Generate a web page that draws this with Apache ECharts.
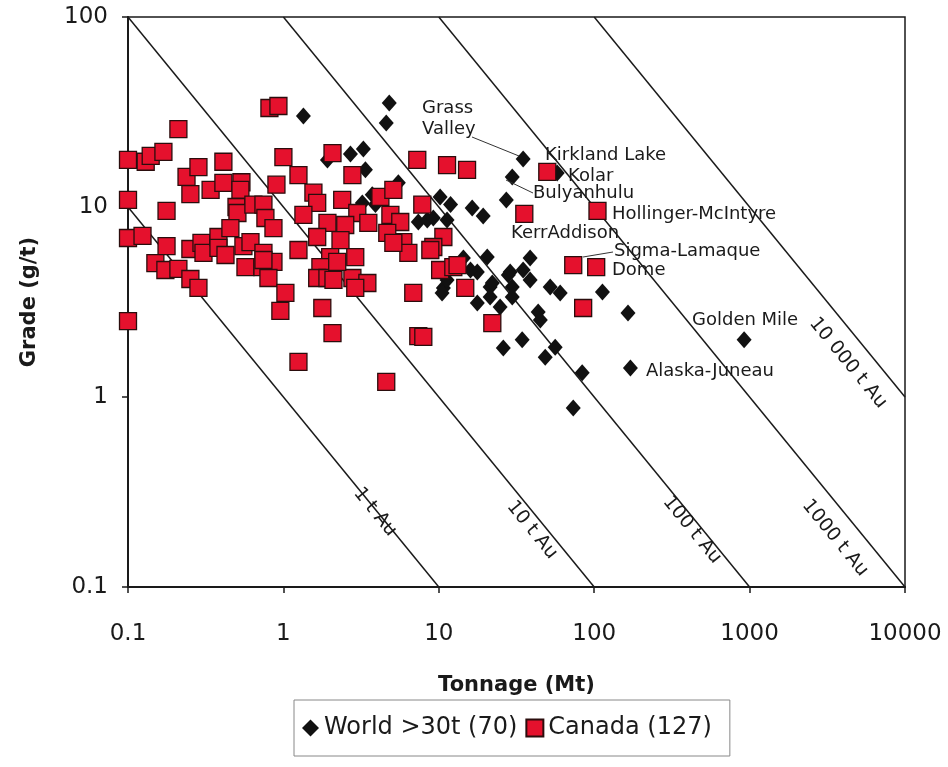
<!DOCTYPE html>
<html>
<head>
<meta charset="utf-8">
<script src="https://cdn.jsdelivr.net/npm/echarts@6/dist/echarts.min.js"></script>
<style>
  html, body { margin: 0; padding: 0; background: #fff; }
  #chart { width: 948px; height: 767px; }
</style>
</head>
<body>
<div id="chart"></div>
<script>
// Canada deposits: tonnage (Mt) and grade (g/t)
const canadaMt = [
  0.10, 0.13, 0.14, 0.169, 0.211, 0.10, 0.177, 0.238, 0.284, 0.252, 0.34, 0.411, 0.411, 0.537, 0.529, 0.499, 0.506, 0.641, 0.744, 0.766, 0.863, 0.902, 0.813, 0.929, 1.0,
  0.10, 0.124, 0.177, 0.15, 0.174, 0.211, 0.252, 0.284, 0.10, 0.252, 0.297, 0.306, 0.382, 0.382, 0.424, 0.456, 0.553, 0.614, 0.57, 0.744, 0.733, 0.863, 0.801, 1.03, 0.956,
  2.07, 2.78, 1.25, 1.56, 1.65, 2.39, 2.99, 4.21, 5.10, 7.27, 11.3, 7.83, 1.345, 1.92, 2.5, 3.52, 4.88, 5.65, 10.7, 1.65,
  2.33, 1.25, 2.0, 2.9, 1.73, 1.65, 1.92, 2.78, 3.47, 2.9, 1.78, 2.07, 1.25, 4.59, 6.85, 7.38, 5.91, 6.37, 4.66, 9.22,
  10.2, 12.4, 15.2, 49.9, 35.5, 105, 73.3, 103, 84.9, 22.1, 8.82, 13.2, 14.8, 7.95,
  2.22, 2.1, 5.1, 0.744
];
const canadaGrade = [
  17.7, 17.3, 18.6, 19.5, 25.7, 10.9, 9.53, 14.4, 16.2, 11.7, 12.3, 17.3, 13.4, 13.5, 12.3, 10.0, 9.30, 10.3, 10.3, 8.75, 7.75, 13.1, 33.2, 34.0, 18.3,
  6.87, 7.04, 6.23, 5.07, 4.66, 4.72, 4.18, 3.75, 2.51, 6.01, 6.47, 5.73, 6.95, 6.09, 5.59, 7.75, 6.23, 6.54, 4.83, 5.73, 4.83, 5.14, 4.23, 3.53, 2.84,
  19.2, 14.7, 14.7, 11.9, 10.5, 10.9, 9.30, 11.3, 12.3, 17.7, 16.6, 10.3, 9.08, 8.24, 8.04, 8.24, 9.08, 8.34, 6.95, 6.95,
  6.70, 5.94, 5.45, 5.45, 4.83, 4.23, 4.23, 4.23, 3.98, 3.75, 2.94, 2.17, 1.53, 1.20, 3.53, 2.09, 6.54, 5.73, 7.30, 6.16,
  4.66, 4.83, 15.7, 15.3, 9.19, 9.53, 4.95, 4.83, 2.94, 2.45, 5.94, 4.95, 3.75, 2.07,
  5.14, 4.13, 6.47, 5.26
];

// World deposits > 30 t Au
const worldMt = [
  1.345, 4.80, 4.59, 2.70, 3.27, 3.37, 5.49, 3.73, 10.2, 11.9, 7.38, 8.43, 11.3, 3.22, 10.7, 11.3, 34.9, 29.7, 27.2, 16.4,
  19.3, 20.5, 17.7, 28.8, 38.7, 34.9, 38.7, 21.4, 21.4, 17.7, 24.8, 29.7, 52.1, 60.4, 113, 43.6, 45.0, 165, 26.0, 34.4,
  56.1, 48.4, 83.7, 171, 73.3, 57.8, 922, 28.0, 29.7, 22.1, 14.4, 16.0, 1.92, 3.91, 9.22, 10.5
];
const worldGrade = [
  30.1, 35.3, 27.7, 19.0, 20.2, 15.7, 13.4, 11.6, 11.3, 10.3, 8.34, 8.54, 8.54, 10.5, 3.75, 4.13, 17.9, 14.4, 10.9, 9.89,
  8.97, 5.45, 4.55, 4.55, 5.39, 4.66, 4.13, 3.79, 3.36, 3.12, 2.98, 3.36, 3.79, 3.53, 3.57, 2.80, 2.54, 2.77, 1.81, 2.0,
  1.83, 1.62, 1.34, 1.42, 0.875, 15.1, 2.0, 4.39, 3.79, 3.98, 5.39, 4.66, 17.7, 10.3, 8.75, 3.53
];

// contained metal lines (t Au = Mt x g/t)
const metalTonnes = [1, 10, 100, 1000, 10000];
const metalNames = ['1 t Au', '10 t Au', '100 t Au', '1000 t Au', '10 000 t Au'];

const xTicks = [0.1, 1, 10, 100, 1000, 10000];
const yTicks = [0.1, 1, 10, 100];

const FONT = 'DejaVu Sans';
const xMin = 0.1, xMax = 10000, yMin = 0.1, yMax = 100;

function zip(xs, ys) {
  return xs.map(function (x, i) { return [x, ys[i]]; });
}

let metalSeries = metalTonnes.map(function (m) {
  let x0 = Math.max(xMin, m / yMax);
  let x1 = Math.min(xMax, m / yMin);
  return {
    type: 'line',
    data: [[x0, m / x0], [x1, m / x1]],
    symbol: 'none',
    silent: true,
    lineStyle: { color: '#1a1a1a', width: 1.5 },
    z: 1
  };
});

let chart = echarts.init(document.getElementById('chart'));

// label positions (pixels) and leader lines
const ANG = -Math.atan(190 / 155.5);
function tx(text, x, y) {
  return {
    type: 'text', x: x, y: y, z: 50,
    style: { text: text, font: '18px "' + FONT + '"', fill: '#1a1a1a', align: 'left', verticalAlign: 'middle' }
  };
}
function ln(x1, y1, x2, y2) {
  return { type: 'line', z: 50, shape: { x1: x1, y1: y1, x2: x2, y2: y2 }, style: { stroke: '#333', lineWidth: 1 } };
}
let metalLabelPos = [[375, 512], [532, 530], [692, 530], [835, 538], [848, 363]];
let graphics = metalNames.map(function (name, i) {
  return {
    type: 'text', x: metalLabelPos[i][0], y: metalLabelPos[i][1], rotation: ANG, z: 50,
    style: { text: name, font: '19px "' + FONT + '"', fill: '#1a1a1a', align: 'center', verticalAlign: 'middle' }
  };
});
graphics = graphics.concat([
  tx('Grass', 422, 108),
  tx('Valley', 422, 129),
  ln(472, 137, 519, 156),
  tx('Kirkland Lake', 545, 155),
  tx('Kolar', 568, 176),
  tx('Bulyanhulu', 533, 193),
  ln(506, 180, 533, 193),
  tx('Hollinger-McIntyre', 612, 214),
  tx('KerrAddison', 511, 233),
  tx('Sigma-Lamaque', 614, 251),
  ln(583, 257, 613, 252),
  tx('Dome', 612, 270),
  tx('Golden Mile', 692, 320),
  tx('Alaska-Juneau', 646, 371)
]);

chart.setOption({
  backgroundColor: '#fff',
  animation: false,
  textStyle: { fontFamily: FONT },
  grid: { left: 128, right: 43, top: 17, bottom: 180, show: true, borderColor: '#1a1a1a', borderWidth: 1.5 },
  legend: {
    left: 294, top: 700,
    padding: [16, 18, 16, 8],
    borderColor: '#888', borderWidth: 1,
    itemGap: 8, itemWidth: 17, itemHeight: 17,
    textStyle: { fontSize: 24, color: '#1a1a1a', fontFamily: FONT },
    data: ['World >30t (70)', 'Canada (127)']
  },
  xAxis: {
    type: 'log', logBase: 10, min: xMin, max: xMax,
    name: 'Tonnage (Mt)', nameLocation: 'middle', nameGap: 88,
    nameTextStyle: { fontSize: 21, fontWeight: 'bold', color: '#1a1a1a', fontFamily: FONT },
    axisLine: { lineStyle: { color: '#1a1a1a', width: 2 } },
    axisTick: { show: true, length: 6, lineStyle: { color: '#1a1a1a', width: 1.5 } },
    axisLabel: {
      fontSize: 23, color: '#1a1a1a', margin: 8, verticalAlign: 'top', padding: [28, 0, 0, 0],
      formatter: function (v) { return xTicks.indexOf(+v) >= 0 ? String(+v) : ''; }
    },
    splitLine: { show: false },
    minorTick: { show: false }
  },
  yAxis: {
    type: 'log', logBase: 10, min: yMin, max: yMax,
    name: 'Grade (g/t)', nameLocation: 'middle', nameGap: 88,
    nameTextStyle: { fontSize: 21, fontWeight: 'bold', color: '#1a1a1a', fontFamily: FONT },
    axisLine: { lineStyle: { color: '#1a1a1a', width: 2 } },
    axisTick: { show: true, length: 6, lineStyle: { color: '#1a1a1a', width: 1.5 } },
    axisLabel: { fontSize: 23, color: '#1a1a1a', margin: 20, formatter: function (v) { return yTicks.indexOf(+v) >= 0 ? String(+v) : ''; } },
    splitLine: { show: false }
  },
  graphic: graphics,
  series: metalSeries.concat([
    {
      name: 'World >30t (70)',
      type: 'scatter',
      data: zip(worldMt, worldGrade),
      symbol: 'diamond',
      symbolSize: [15, 17],
      itemStyle: { color: '#111', opacity: 1 },
      z: 3
    },
    {
      name: 'Canada (127)',
      type: 'scatter',
      data: zip(canadaMt, canadaGrade),
      symbol: 'rect',
      symbolSize: 17,
      itemStyle: { color: '#e5112d', borderColor: '#2b0d0d', borderWidth: 1.3, opacity: 1 },
      z: 4
    }
  ])
});
</script>
</body>
</html>
